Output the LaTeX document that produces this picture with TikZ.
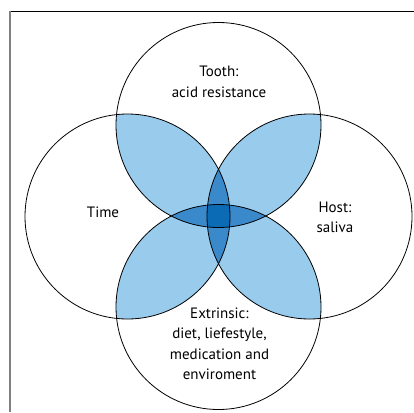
\documentclass[tikz,border=0pt]{standalone}
\usepackage{fontspec}
\setmainfont{PT Sans}
\begin{document}
\begin{tikzpicture}[x=1pt,y=-1pt,
  ring/.style={draw=black,line width=0.8pt},
  label/.style={align=center,font=\fontsize{15}{20.5}\selectfont,inner sep=0pt}]
\definecolor{lightblue}{HTML}{98CBEC}
\definecolor{midblue}{HTML}{3A8ACB}
\definecolor{darkblue}{HTML}{0B6CB5}
\useasboundingbox (0,0) rectangle (414,412);
\fill[white] (0,0) rectangle (414,412);

% circle centres and radius
\def\rad{102.5}
\coordinate (T) at (218.5,125);
\coordinate (B) at (218.5,307);
\coordinate (L) at (127.5,216.5);
\coordinate (R) at (309.5,216.5);

% two-way overlaps
\foreach \a/\b in {T/L,T/R,B/L,B/R}{
  \begin{scope}
    \clip (\a) circle (\rad);
    \fill[lightblue] (\b) circle (\rad);
  \end{scope}
}
% three-way overlaps
\foreach \a/\b/\c in {T/L/R,B/L/R,T/B/L,T/B/R}{
  \begin{scope}
    \clip (\a) circle (\rad);
    \clip (\b) circle (\rad);
    \fill[midblue] (\c) circle (\rad);
  \end{scope}
}
% four-way overlap
\begin{scope}
  \clip (T) circle (\rad);
  \clip (B) circle (\rad);
  \clip (L) circle (\rad);
  \fill[darkblue] (R) circle (\rad);
\end{scope}

% outlines
\foreach \p in {T,B,L,R}{\draw[ring] (\p) circle (\rad);}

% frame
\coordinate (fc) at (10,11.5);
\draw[black,line width=1pt] (fc) -- (414,11.5);
\draw[gray,line width=2pt] (10,11) -- (10,412);

% labels
\node[label] (tooth) at (219,82) {Tooth:\\acid resistance};
\node[label] (time) at (103,212) {Time};
\node[label] (host) at (335,217.5) {Host:\\saliva};
\node[label] (extr) at (219.5,344) {Extrinsic:\\diet, liefestyle,\\medication and\\enviroment};
\end{tikzpicture}
\end{document}
